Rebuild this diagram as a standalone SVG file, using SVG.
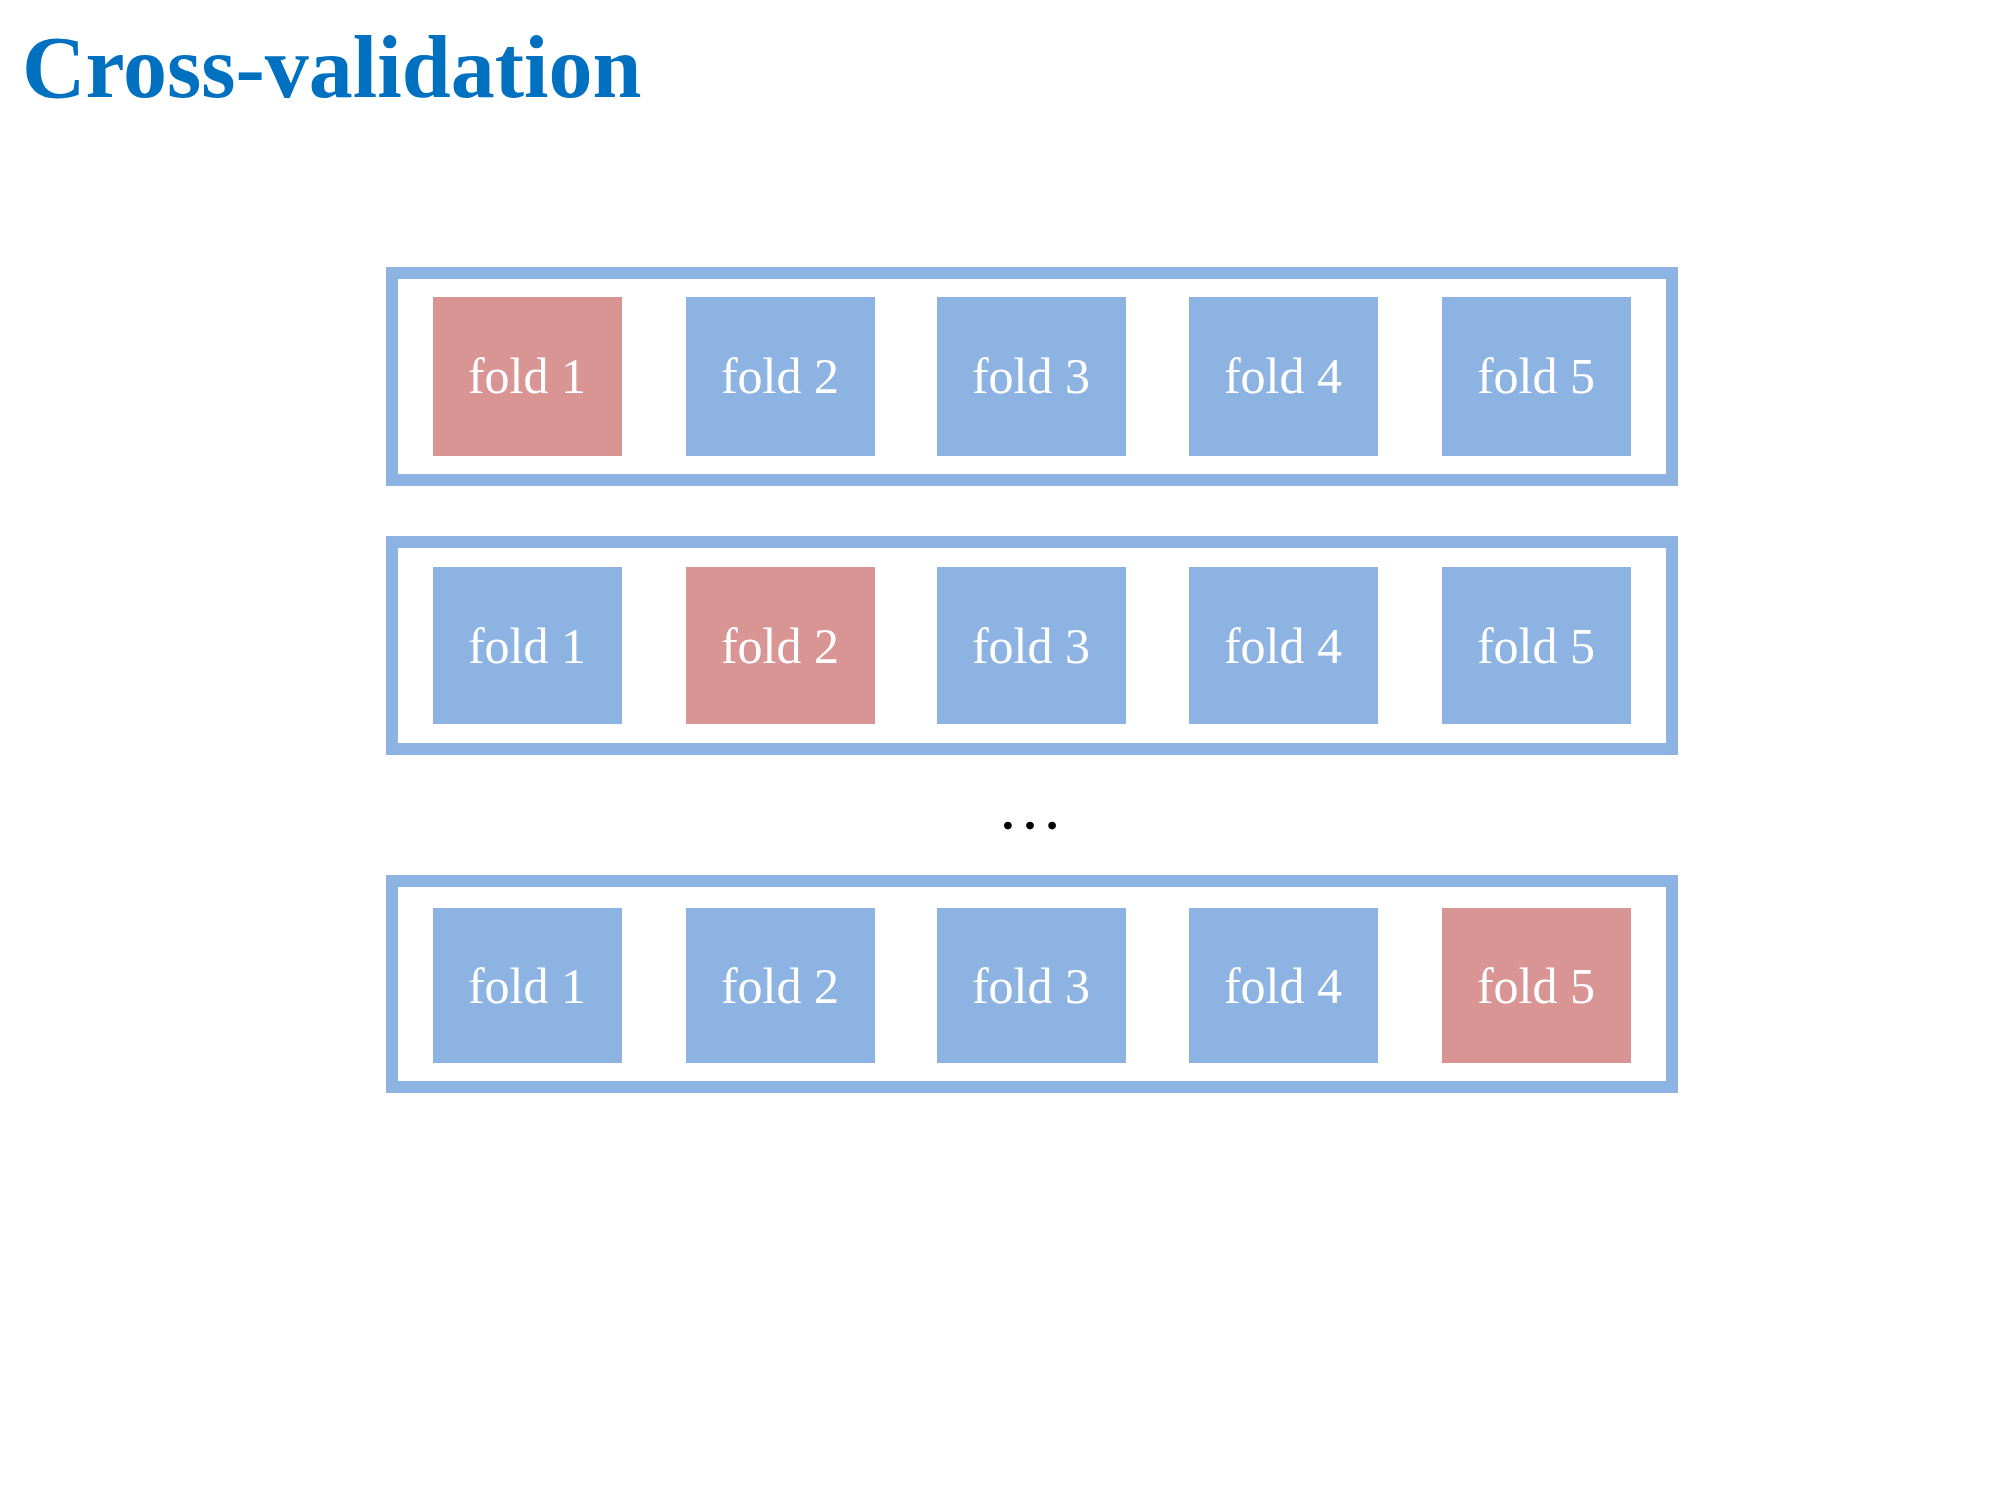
<svg xmlns="http://www.w3.org/2000/svg" width="2000" height="1500" viewBox="0 0 2000 1500">
<style>
.frame{fill:none;stroke:#8DB3E2;stroke-width:12}
.blue{fill:#8DB3E2}
.red{fill:#D99594}
.lbl{font-family:"Liberation Serif","Times New Roman",serif;font-size:50px;fill:#FFFFFF;text-anchor:middle}
.title{font-family:"Liberation Serif","Times New Roman",serif;font-size:88px;font-weight:bold;fill:#0070C0}
</style>
<rect x="0" y="0" width="2000" height="1500" fill="#FFFFFF"/>
<text class="title" x="22" y="97">Cross-validation</text>
<g id="row1">
<rect class="frame" x="392" y="273" width="1280" height="207"/>
<g id="r1f1"><rect class="red" x="433" y="297" width="189" height="159"/><text class="lbl" x="527" y="393">fold 1</text></g>
<g id="r1f2"><rect class="blue" x="686" y="297" width="189" height="159"/><text class="lbl" x="780" y="393">fold 2</text></g>
<g id="r1f3"><rect class="blue" x="937" y="297" width="189" height="159"/><text class="lbl" x="1031" y="393">fold 3</text></g>
<g id="r1f4"><rect class="blue" x="1189" y="297" width="189" height="159"/><text class="lbl" x="1283" y="393">fold 4</text></g>
<g id="r1f5"><rect class="blue" x="1442" y="297" width="189" height="159"/><text class="lbl" x="1536" y="393">fold 5</text></g>
</g>
<g id="row2">
<rect class="frame" x="392" y="542" width="1280" height="207"/>
<g id="r2f1"><rect class="blue" x="433" y="567" width="189" height="157"/><text class="lbl" x="527" y="663">fold 1</text></g>
<g id="r2f2"><rect class="red" x="686" y="567" width="189" height="157"/><text class="lbl" x="780" y="663">fold 2</text></g>
<g id="r2f3"><rect class="blue" x="937" y="567" width="189" height="157"/><text class="lbl" x="1031" y="663">fold 3</text></g>
<g id="r2f4"><rect class="blue" x="1189" y="567" width="189" height="157"/><text class="lbl" x="1283" y="663">fold 4</text></g>
<g id="r2f5"><rect class="blue" x="1442" y="567" width="189" height="157"/><text class="lbl" x="1536" y="663">fold 5</text></g>
</g>
<text id="ellipsis" x="1030" y="829" font-family="Liberation Serif, serif" font-size="66" fill="#000000" text-anchor="middle">…</text>
<g id="row3">
<rect class="frame" x="392" y="881" width="1280" height="206"/>
<g id="r3f1"><rect class="blue" x="433" y="908" width="189" height="155"/><text class="lbl" x="527" y="1003">fold 1</text></g>
<g id="r3f2"><rect class="blue" x="686" y="908" width="189" height="155"/><text class="lbl" x="780" y="1003">fold 2</text></g>
<g id="r3f3"><rect class="blue" x="937" y="908" width="189" height="155"/><text class="lbl" x="1031" y="1003">fold 3</text></g>
<g id="r3f4"><rect class="blue" x="1189" y="908" width="189" height="155"/><text class="lbl" x="1283" y="1003">fold 4</text></g>
<g id="r3f5"><rect class="red" x="1442" y="908" width="189" height="155"/><text class="lbl" x="1536" y="1003">fold 5</text></g>
</g>
<g id="connectors"/>
</svg>
